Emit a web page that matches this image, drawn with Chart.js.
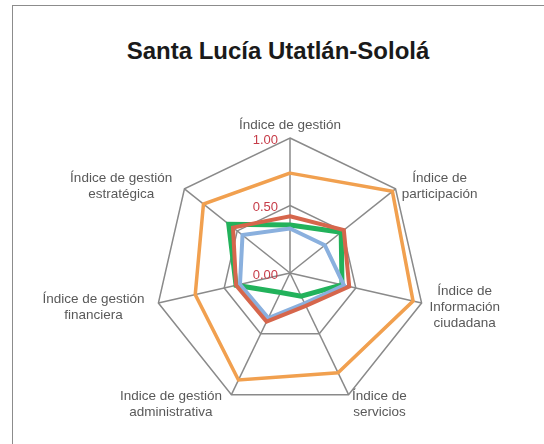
<!DOCTYPE html>
<html>
<head>
<meta charset="utf-8">
<title>Santa Lucía Utatlán-Sololá</title>
<script src="https://cdn.jsdelivr.net/npm/chart.js@4.4.1/dist/chart.umd.min.js"></script>
<style>
    body { margin: 0; background: #ffffff; }
    #wrap { position: relative; width: 544px; height: 444px; overflow: hidden; }
    #frame {
        position: absolute; left: 12px; top: 5px; width: 620px; height: 520px;
        border-left: 1px solid #8c8c8c; border-top: 1px solid #8c8c8c;
    }
    #title {
        position: absolute; left: 12px; width: 532px; top: 37px;
        text-align: center; font: bold 24px/28px "Liberation Sans", Arial, sans-serif; color: #1a1a1a;
    }
    canvas { position: absolute; left: 0; top: 0; }
</style>
</head>
<body>
<div id="wrap">
    <div id="frame"></div>
    <div id="title">Santa Lucía Utatlán-Sololá</div>
    <canvas id="radar" width="544" height="444"></canvas>
</div>
<script>
// Axis names (one entry per line of the label)
const categories = [
    ['Índice de gestión'],
    ['Índice de', 'participación'],
    ['Índice de', 'Información', 'ciudadana'],
    ['Índice de', 'servicios'],
    ['Indice de gestión', 'administrativa'],
    ['Índice de gestión', 'financiera'],
    ['Índice de gestión', 'estratégica']
];

// Values
const seriesOrange = [0.74, 0.97, 0.935, 0.82, 0.88, 0.72, 0.82];
const seriesRed = [0.42, 0.51, 0.45, 0.27, 0.40, 0.41, 0.54];
const seriesBlue = [0.33, 0.33, 0.41, 0.25, 0.37, 0.38, 0.45];
const seriesGreen = [0.355, 0.485, 0.395, 0.19, 0.16, 0.41, 0.58];

const tickValues = [0, 0.5, 1];
const tickLabels = ['0.00', '0.50', '1.00'];

// Draws the red value labels left of the top axis
const tickLabelPlugin = {
    id: 'tickLabelPlugin',
    afterDraw(chart) {
        const scale = chart.scales.r;
        const ctx = chart.ctx;
        ctx.save();
        ctx.font = '13px "Liberation Sans", Arial, sans-serif';
        ctx.fillStyle = '#c63c48';
        ctx.textAlign = 'right';
        ctx.textBaseline = 'middle';
        tickValues.forEach((v, i) => {
            const d = scale.getDistanceFromCenterForValue(v);
            ctx.fillText(tickLabels[i], scale.xCenter - 12, scale.yCenter - d + 2);
        });
        ctx.restore();
    }
};

// Draws the axis names with centred lines, next to each outer corner
const pointLabelPlugin = {
    id: 'pointLabelPlugin',
    afterDraw(chart) {
        const scale = chart.scales.r;
        const ctx = chart.ctx;
        const lineHeight = 16;
        ctx.save();
        ctx.font = '13.5px "Liberation Sans", Arial, sans-serif';
        ctx.fillStyle = '#595959';
        ctx.textAlign = 'center';
        ctx.textBaseline = 'middle';
        categories.forEach((lines, i) => {
            const p = scale.getPointPosition(i, scale.drawingArea + 8);
            const deg = 360 / categories.length * i;
            const w = Math.max(...lines.map(t => ctx.measureText(t).width));
            const h = lines.length * lineHeight;
            let cx, cy;
            if (deg === 0) {
                cx = p.x;
                cy = p.y - h / 2 + 3;
            } else if (deg < 180) {
                cx = p.x + w / 2;
                cy = p.y + 2;
            } else {
                cx = p.x - 6 - w / 2;
                cy = p.y + 2;
            }
            lines.forEach((t, k) => {
                ctx.fillText(t, cx, cy - h / 2 + lineHeight * (k + 0.5));
            });
        });
        ctx.restore();
    }
};

function makeDataset(values, color, width) {
    return {
        data: values,
        borderColor: color,
        borderWidth: width,
        borderJoinStyle: 'miter',
        backgroundColor: 'transparent',
        fill: false,
        pointRadius: 0,
        pointHoverRadius: 0
    };
}

function drawChart() {
    const ctx = document.getElementById('radar').getContext('2d');
    new Chart(ctx, {
        type: 'radar',
        data: {
            labels: categories.map(c => c.join(' ')),
            datasets: [
                makeDataset(seriesOrange, '#f1a04f', 3.5),
                makeDataset(seriesRed, '#d6664c', 4),
                makeDataset(seriesBlue, '#8ab0de', 4),
                makeDataset(seriesGreen, '#22b25b', 5)
            ]
        },
        options: {
            responsive: false,
            animation: false,
            layout: { padding: { left: 155, right: 119, top: 138, bottom: 36 } },
            plugins: { legend: { display: false }, title: { display: false }, tooltip: { enabled: false } },
            scales: {
                r: {
                    min: 0,
                    max: 1,
                    ticks: { display: false, stepSize: 0.5 },
                    pointLabels: { display: false },
                    grid: { circular: false, color: '#8a8a8a', lineWidth: 1.5 },
                    angleLines: { color: '#8a8a8a', lineWidth: 1.5 }
                }
            }
        },
        plugins: [tickLabelPlugin, pointLabelPlugin]
    });
}

document.addEventListener('DOMContentLoaded', drawChart);
</script>
</body>
</html>
